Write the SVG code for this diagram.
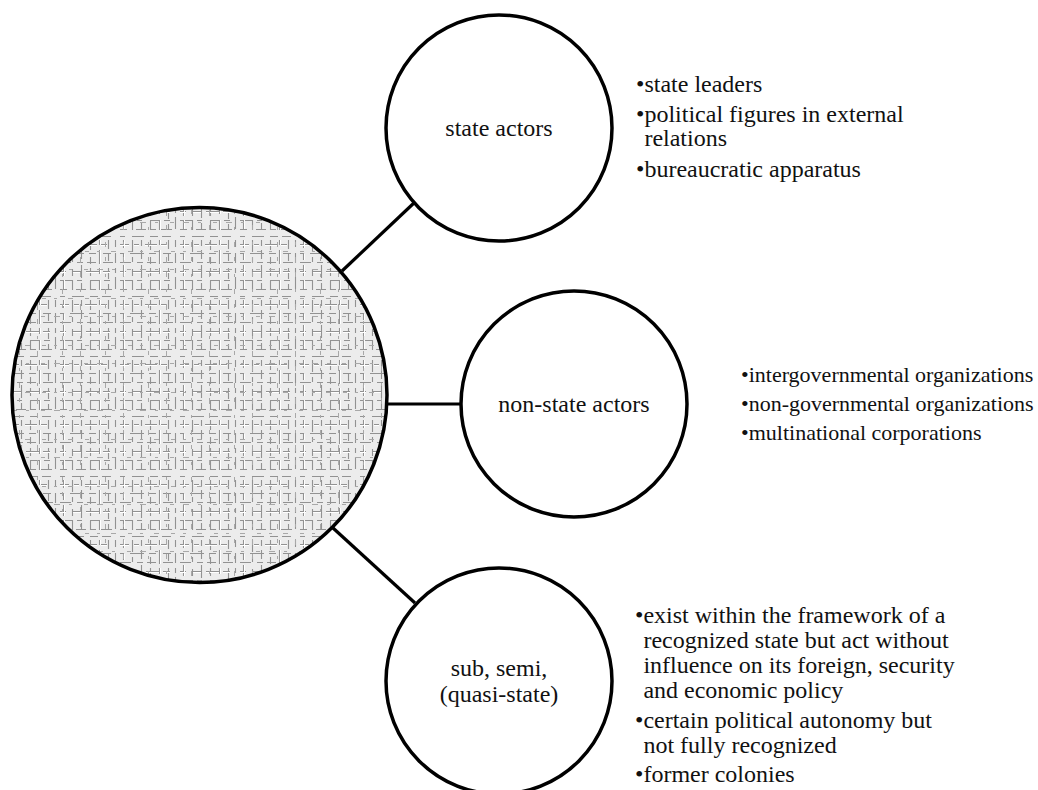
<svg xmlns="http://www.w3.org/2000/svg" width="1038" height="790" viewBox="0 0 1038 790">
  <style>
    .node { fill: #ffffff; stroke: #000000; stroke-width: 3.5; }
    .conn { stroke: #000000; stroke-width: 3.2; fill: none; }
    text { font-family: 'Liberation Serif', 'Times New Roman', serif; font-size: 24px; fill: #111111; }
    .mid { text-anchor: middle; }
    .small { font-size: 22px; }
  </style>
  <defs>
    <pattern id="weaveA" width="60" height="60" patternUnits="userSpaceOnUse">
      <rect width="60" height="60" fill="#ececec"/>
      <g fill="none" stroke="#929292" stroke-width="1.1">
        <path d="M0 4.5H60" stroke-dasharray="9 5 5 6 12 4 6 13"/>
        <path d="M0 13.5H60" stroke-dasharray="4 6 14 5 7 7 8 9"/>
        <path d="M0 22.5H60" stroke-dasharray="11 6 6 4 9 7 10 7"/>
        <path d="M0 31.5H60" stroke-dasharray="6 7 8 5 13 4 7 10"/>
        <path d="M0 40.5H60" stroke-dasharray="13 4 5 8 9 5 6 10"/>
        <path d="M0 49.5H60" stroke-dasharray="7 9 10 4 6 5 11 8"/>
        <path d="M0 56.5H60" stroke-dasharray="5 7 12 6 8 4 9 9"/>
        <path d="M3.5 0V60" stroke-dasharray="8 6 6 5 11 4 9 11"/>
        <path d="M12.5 0V60" stroke-dasharray="12 5 5 7 7 4 10 10"/>
        <path d="M21.5 0V60" stroke-dasharray="6 4 9 6 13 5 7 10"/>
        <path d="M30.5 0V60" stroke-dasharray="10 7 7 4 8 5 9 10"/>
        <path d="M39.5 0V60" stroke-dasharray="5 5 14 4 6 6 10 10"/>
        <path d="M48.5 0V60" stroke-dasharray="9 4 8 7 11 5 6 10"/>
        <path d="M55.5 0V60" stroke-dasharray="7 6 10 5 5 4 12 11"/>
      </g>
      <g fill="none" stroke="#ffffff" stroke-width="1">
        <path d="M0 5.5H60" stroke-dasharray="9 5 5 6 12 4 6 13"/>
        <path d="M0 32.5H60" stroke-dasharray="6 7 8 5 13 4 7 10"/>
        <path d="M4.5 0V60" stroke-dasharray="8 6 6 5 11 4 9 11"/>
        <path d="M40.5 0V60" stroke-dasharray="5 5 14 4 6 6 10 10"/>
      </g>
    </pattern>
    <pattern id="weaveB" width="43" height="47" patternUnits="userSpaceOnUse" x="11" y="7">
      <g fill="none" stroke="#a8a8a8" stroke-width="1">
        <path d="M0 9.5H43" stroke-dasharray="3 11 5 12 4 8"/>
        <path d="M0 27.5H43" stroke-dasharray="6 9 3 12 4 9"/>
        <path d="M8.5 0V47" stroke-dasharray="5 10 4 13 3 12"/>
        <path d="M26.5 0V47" stroke-dasharray="3 12 6 9 5 12"/>
      </g>
    </pattern>
  </defs>
  <rect width="1038" height="790" fill="#ffffff"/>

  <g id="connectors">
    <line class="conn" x1="342" y1="271" x2="415" y2="202"/>
    <line class="conn" x1="386" y1="404" x2="461" y2="404"/>
    <line class="conn" x1="333" y1="528" x2="415" y2="603"/>
  </g>

  <g id="center">
    <circle cx="199.5" cy="395" r="187.5" fill="url(#weaveA)"/>
    <circle cx="199.5" cy="395" r="187.5" fill="url(#weaveB)"/>
    <circle cx="199.5" cy="395" r="187.5" fill="none" stroke="#000000" stroke-width="3.5"/>
  </g>

  <g id="state-actors">
    <circle class="node" cx="499" cy="128" r="113"/>
    <text class="mid" x="499" y="136">state actors</text>
  </g>

  <g id="non-state-actors">
    <circle class="node" cx="574" cy="404" r="113"/>
    <text class="mid" x="574" y="412">non-state actors</text>
  </g>

  <g id="sub-semi-quasi-state">
    <circle class="node" cx="499" cy="681" r="113"/>
    <text class="mid" x="499" y="676">sub, semi,</text>
    <text class="mid" x="499" y="702">(quasi-state)</text>
  </g>

  <g id="state-actors-list">
    <text x="636" y="92">•state leaders</text>
    <text x="636" y="122">•political figures in external</text>
    <text x="644.4" y="146">relations</text>
    <text x="636" y="177">•bureaucratic apparatus</text>
  </g>

  <g id="non-state-actors-list">
    <text class="small" x="741" y="382">•intergovernmental organizations</text>
    <text class="small" x="741" y="411">•non-governmental organizations</text>
    <text class="small" x="741" y="440">•multinational corporations</text>
  </g>

  <g id="sub-state-list">
    <text x="635" y="623">•exist within the framework of a</text>
    <text x="643.4" y="648">recognized state but act without</text>
    <text x="643.4" y="673">influence on its foreign, security</text>
    <text x="643.4" y="698">and economic policy</text>
    <text x="635" y="728">•certain political autonomy but</text>
    <text x="643.4" y="753">not fully recognized</text>
    <text x="635" y="782">•former colonies</text>
  </g>
</svg>
